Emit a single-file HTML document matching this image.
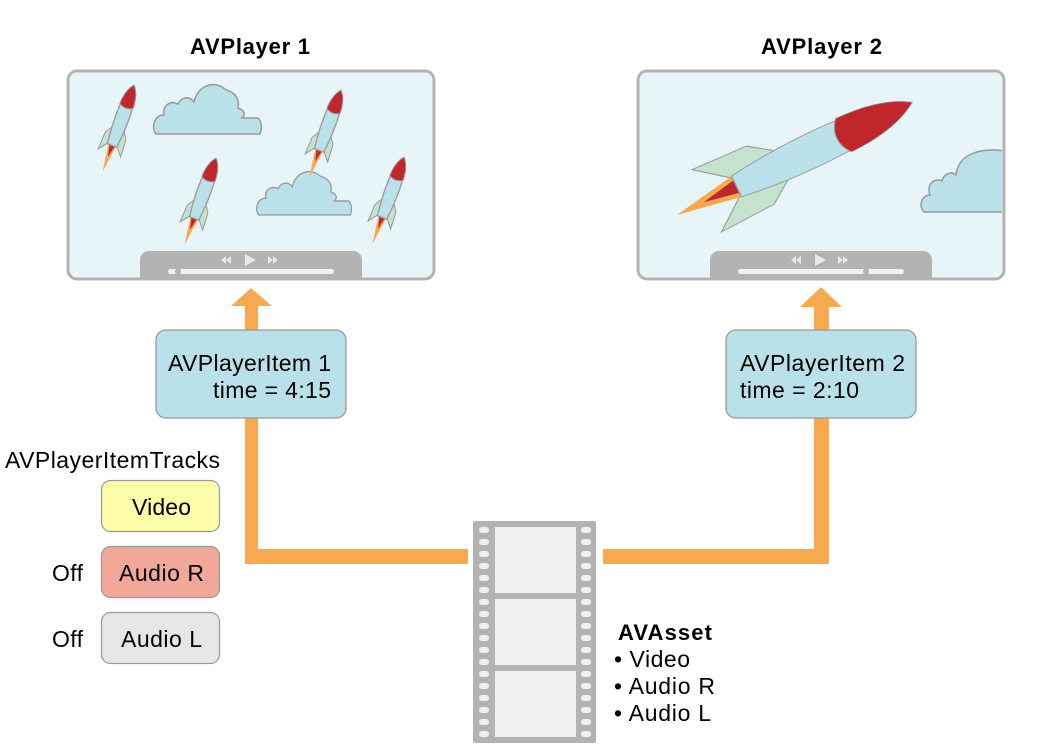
<!DOCTYPE html>
<html><head><style>
html,body{margin:0;padding:0;background:#fff;}
svg{display:block;font-family:"Liberation Sans",Arial,sans-serif;}
</style></head><body>
<svg width="1040" height="754" viewBox="0 0 1040 754" xmlns="http://www.w3.org/2000/svg">
<defs>
<g id="rk">
  <path d="M-4,24 L-12,34 L-11,16 L-6,8 Z" fill="#c4e2cc" stroke="#999" stroke-width="1"/>
  <path d="M4,24 L12,34 L11,16 L6,8 Z" fill="#c4e2cc" stroke="#999" stroke-width="1"/>
  <path d="M-4,26 L0,54 L4,26 Z" fill="#f6a94e"/>
  <path d="M-3,25 L0,38 L3,25 Z" fill="#c0272d"/>
  <path d="M0,-38 C8,-30 8,0 5,26 L-5,26 C-8,0 -8,-30 0,-38 Z" fill="#bae0ea" stroke="#999" stroke-width="1.3"/>
  <path d="M0,-38 C5,-33 7,-24 7,-16 C2,-13 -2,-13 -7,-16 C-7,-24 -5,-33 0,-38 Z" fill="#c0272d" stroke="#999" stroke-width="1"/>
</g>
<path id="cl" d="M2,50 C-4,42 2,30 10,31 C8,22 16,16 24,20 C28,12 36,12 40,18 C44,0 62,-4 72,6 C80,8 86,14 84,24 C90,26 92,30 88,34 L104,34 C108,38 108,44 106,50 Z" fill="#bae0ea" stroke="#999" stroke-width="1.5"/>
</defs>

<text x="190" y="54" textLength="120" font-size="22" font-weight="bold">AVPlayer 1</text>
<text x="761" y="54" textLength="121" font-size="22" font-weight="bold">AVPlayer 2</text>

<!-- Player 1 -->
<rect x="68" y="71" width="366" height="208" rx="9" fill="#e7f4f8" stroke="#b3b3b3" stroke-width="3"/>
<use href="#cl" transform="translate(154,84)"/>
<use href="#cl" transform="translate(257,171) scale(0.88)"/>
<use href="#rk" transform="translate(121,121) rotate(20)"/>
<use href="#rk" transform="translate(328,126) rotate(20)"/>
<use href="#rk" transform="translate(203,194) rotate(20)"/>
<use href="#rk" transform="translate(391,193) rotate(20)"/>
<path d="M140,260 a9,9 0 0 1 9,-9 h204 a9,9 0 0 1 9,9 v18 h-222 Z" fill="#b3b3b3"/>
<path d="M245,254 L256,260 L245,266 Z" fill="#e8e8e8"/>
<path d="M226,256 l-5,4 5,4 Z M231,256 l-5,4 5,4 Z M268,256 l5,4 -5,4 Z M273,256 l5,4 -5,4 Z" fill="#e8e8e8"/>
<rect x="168" y="269" width="166" height="5" rx="2.5" fill="#f0f0f0"/>
<circle cx="178" cy="271.5" r="3" fill="#b3b3b3"/>

<!-- Player 2 -->
<rect x="638" y="71" width="366" height="208" rx="9" fill="#e7f4f8" stroke="#b3b3b3" stroke-width="3"/>
<svg x="638" y="71" width="364" height="208" overflow="hidden">
<path d="M286,141 C280,134 284,124 292,124 C288,114 296,106 304,110 C306,102 314,100 318,104 C320,84 340,76 368,80 L368,141 Z" fill="#bae0ea" stroke="#999" stroke-width="1.5"/>
</svg>
<g transform="translate(796,158) rotate(64.4) scale(2.3,3.3)">
  <path d="M-4,20 L-15,30 L-14,12 L-6,4 Z" fill="#c4e2cc" stroke="#999" stroke-width="0.4"/>
  <path d="M4,20 L15,30 L14,12 L6,4 Z" fill="#c4e2cc" stroke="#999" stroke-width="0.4"/>
  <path d="M-5,20 L0,40 L5,20 Z" fill="#f6a94e"/>
  <path d="M-3,20 L0,31 L3,20 Z" fill="#c0272d"/>
  <path d="M0,-39 C9,-30 9,0 5,20 L-5,20 C-9,0 -9,-30 0,-39 Z" fill="#bae0ea" stroke="#999" stroke-width="0.4"/>
  <path d="M0,-39 C6,-33 8,-24 8,-16 C3,-13 -3,-13 -8,-16 C-8,-24 -6,-33 0,-39 Z" fill="#c0272d" stroke="#999" stroke-width="0.3"/>
</g>
<path d="M710,260 a9,9 0 0 1 9,-9 h204 a9,9 0 0 1 9,9 v18 h-222 Z" fill="#b3b3b3"/>
<path d="M815,254 L826,260 L815,266 Z" fill="#e8e8e8"/>
<path d="M796,256 l-5,4 5,4 Z M801,256 l-5,4 5,4 Z M838,256 l5,4 -5,4 Z M843,256 l5,4 -5,4 Z" fill="#e8e8e8"/>
<rect x="738" y="269" width="166" height="5" rx="2.5" fill="#f0f0f0"/>
<circle cx="866" cy="271.5" r="3" fill="#b3b3b3"/>

<!-- Arrows -->
<g fill="#f6a94e">
<path d="M231,306 L251,288 L272,306 L258,306 L258,549 L468,549 L468,564 L245,564 L245,306 Z"/>
<path d="M800,307 L821,287 L842,307 L829,307 L829,564 L603,564 L603,549 L814,549 L814,307 Z"/>
</g>

<g font-size="23">
<!-- Items -->
<rect x="156" y="330" width="190" height="88" rx="10" fill="#bae0ea" stroke="#999" stroke-width="1.3"/>
<text x="168" y="371" textLength="163">AVPlayerItem 1</text>
<text x="213" y="398" textLength="118">time = 4:15</text>
<rect x="726" y="330" width="190" height="88" rx="10" fill="#bae0ea" stroke="#999" stroke-width="1.3"/>
<text x="740" y="371" textLength="165">AVPlayerItem 2</text>
<text x="740" y="398" textLength="119">time = 2:10</text>

<!-- Tracks -->
<text x="5" y="468" textLength="215">AVPlayerItemTracks</text>
<rect x="101.5" y="480.5" width="118" height="51" rx="9" fill="#fdfca8" stroke="#999" stroke-width="1.2"/>
<text x="132" y="515" textLength="59">Video</text>
<rect x="101.5" y="546.5" width="118" height="51" rx="9" fill="#f2a898" stroke="#999" stroke-width="1.2"/>
<text x="119" y="581" textLength="85">Audio R</text>
<text x="52" y="581" textLength="31">Off</text>
<rect x="101.5" y="612.5" width="118" height="51" rx="9" fill="#e6e6e6" stroke="#999" stroke-width="1.2"/>
<text x="121" y="647" textLength="81">Audio L</text>
<text x="52" y="647" textLength="31">Off</text>

<!-- AVAsset -->
<text x="618" y="640" textLength="94" font-weight="bold" font-size="22">AVAsset</text>
<text x="614" y="667" textLength="76">• Video</text>
<text x="614" y="694" textLength="101">• Audio R</text>
<text x="614" y="721" textLength="97">• Audio L</text>
</g>

<!-- Film strip -->
<rect x="473" y="521" width="123" height="222" rx="2" fill="#b3b3b3"/>
<rect x="495" y="527" width="81" height="66" fill="#f0f0f0"/>
<rect x="495" y="599" width="81" height="66" fill="#f0f0f0"/>
<rect x="495" y="671" width="81" height="66" fill="#f0f0f0"/>
<g fill="#f0f0f0">
<rect x="479" y="527" width="10" height="6" rx="3"/><rect x="479" y="539" width="10" height="6" rx="3"/><rect x="479" y="551" width="10" height="6" rx="3"/><rect x="479" y="563" width="10" height="6" rx="3"/><rect x="479" y="575" width="10" height="6" rx="3"/><rect x="479" y="587" width="10" height="6" rx="3"/><rect x="479" y="599" width="10" height="6" rx="3"/><rect x="479" y="611" width="10" height="6" rx="3"/><rect x="479" y="623" width="10" height="6" rx="3"/><rect x="479" y="635" width="10" height="6" rx="3"/><rect x="479" y="647" width="10" height="6" rx="3"/><rect x="479" y="659" width="10" height="6" rx="3"/><rect x="479" y="671" width="10" height="6" rx="3"/><rect x="479" y="683" width="10" height="6" rx="3"/><rect x="479" y="695" width="10" height="6" rx="3"/><rect x="479" y="707" width="10" height="6" rx="3"/><rect x="479" y="719" width="10" height="6" rx="3"/><rect x="479" y="731" width="10" height="6" rx="3"/>
<rect x="581" y="527" width="10" height="6" rx="3"/><rect x="581" y="539" width="10" height="6" rx="3"/><rect x="581" y="551" width="10" height="6" rx="3"/><rect x="581" y="563" width="10" height="6" rx="3"/><rect x="581" y="575" width="10" height="6" rx="3"/><rect x="581" y="587" width="10" height="6" rx="3"/><rect x="581" y="599" width="10" height="6" rx="3"/><rect x="581" y="611" width="10" height="6" rx="3"/><rect x="581" y="623" width="10" height="6" rx="3"/><rect x="581" y="635" width="10" height="6" rx="3"/><rect x="581" y="647" width="10" height="6" rx="3"/><rect x="581" y="659" width="10" height="6" rx="3"/><rect x="581" y="671" width="10" height="6" rx="3"/><rect x="581" y="683" width="10" height="6" rx="3"/><rect x="581" y="695" width="10" height="6" rx="3"/><rect x="581" y="707" width="10" height="6" rx="3"/><rect x="581" y="719" width="10" height="6" rx="3"/><rect x="581" y="731" width="10" height="6" rx="3"/>
</g>
</svg>
</body></html>
